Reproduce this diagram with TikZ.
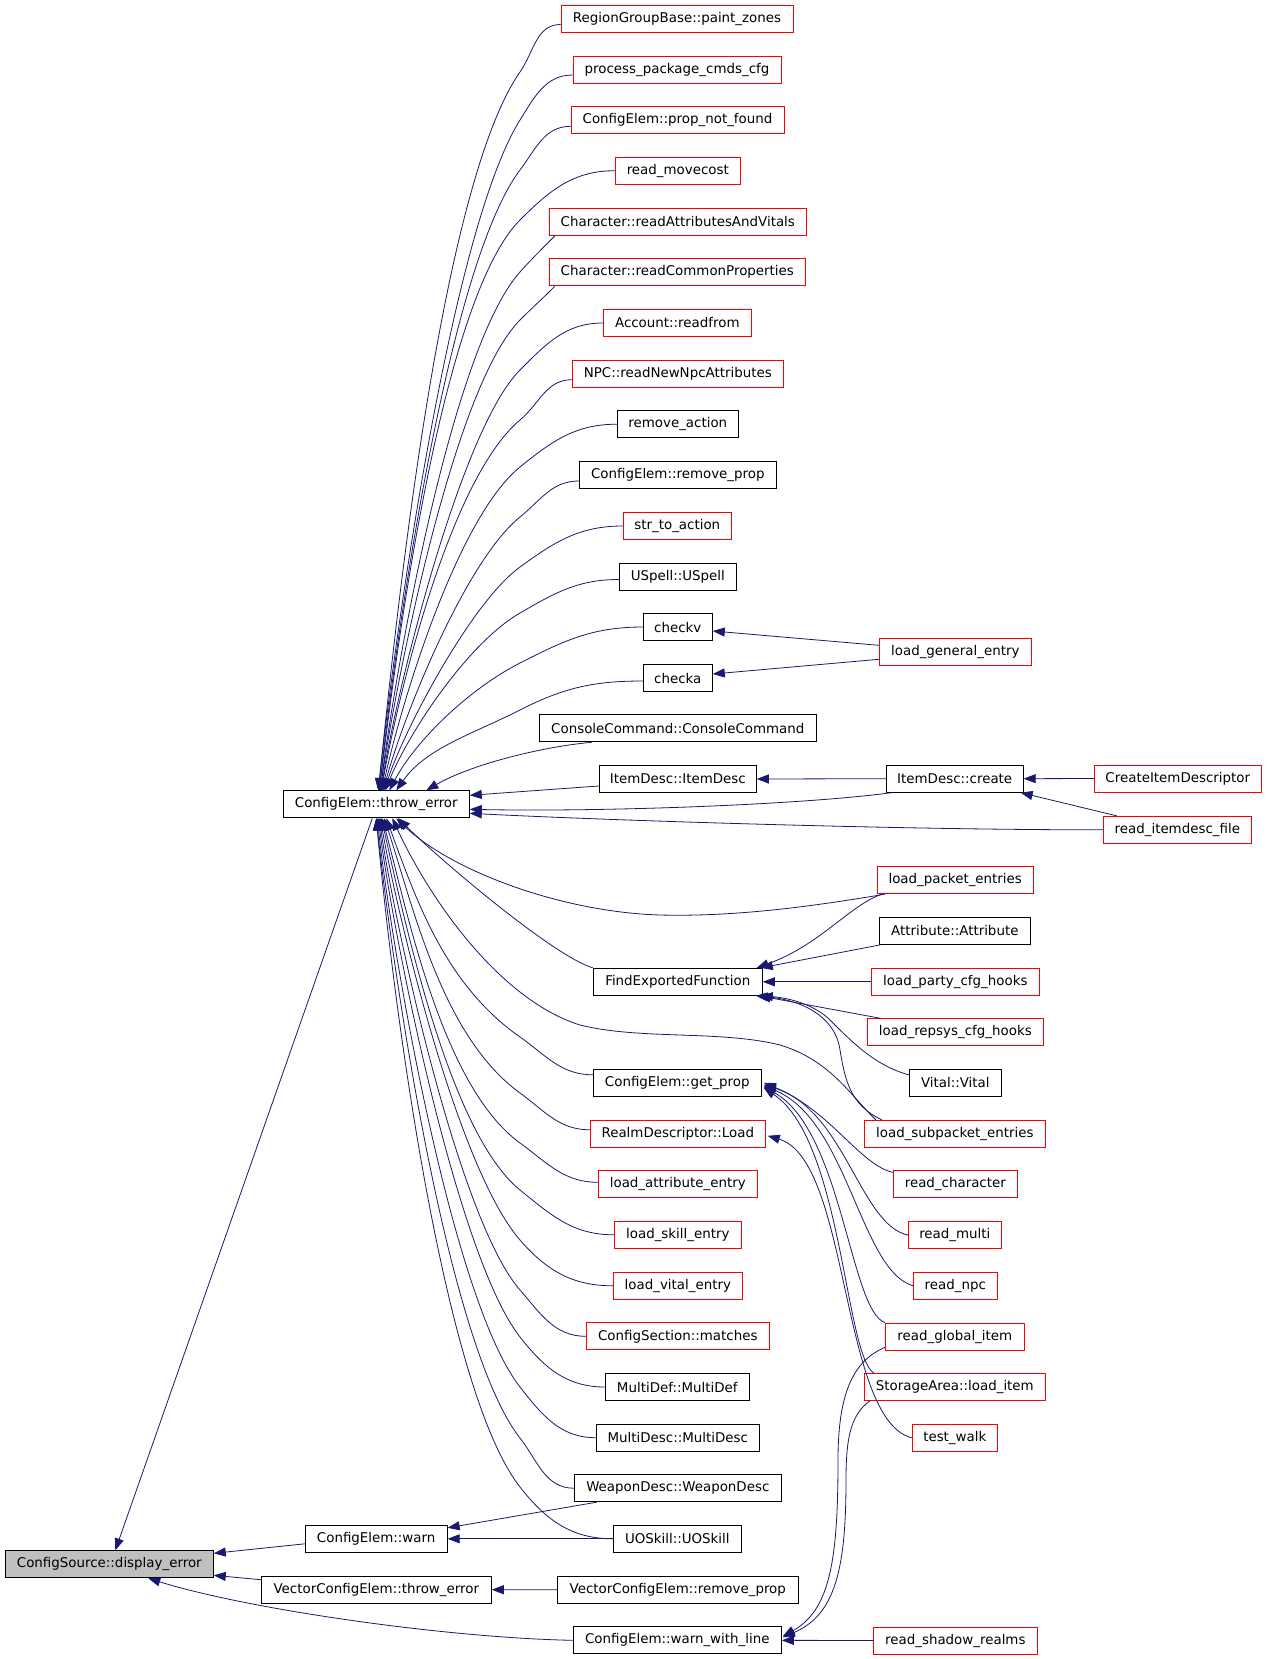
\documentclass[tikz,border=0pt]{standalone}
\usepackage{fontspec}
\setmainfont{DejaVu Sans}
\usetikzlibrary{arrows.meta,calc}
\definecolor{edgec}{HTML}{191970}
\definecolor{redc}{HTML}{FF0000}
\definecolor{grayc}{HTML}{BFBFBF}
\begin{document}
\begin{tikzpicture}[x=1pt,y=-1pt,
  box/.style={draw=black,line width=0.9pt,minimum height=27pt,inner sep=0pt,font=\fontsize{13.4}{16}\selectfont},
  rbox/.style={box,draw=redc},
  edge/.style={draw=edgec,line width=0.8pt,-{Triangle[length=12pt,width=9pt]}},
]
\useasboundingbox (0,0) rectangle (1267,1659);
\fill[white] (0,0) rectangle (1267,1659);

% column 0 / 1
\node[box,fill=grayc,minimum width=208pt] (de) at (109.3,1564.3) {ConfigSource::display\_error};
\node[box,minimum width=186pt] (te) at (376.3,804.3) {ConfigElem::throw\_error};
\node[box,minimum width=142pt] (warn) at (376.2,1538.8) {ConfigElem::warn};
\node[box,minimum width=230pt] (vte) at (376.3,1589.7) {VectorConfigElem::throw\_error};

% column 2
\node[rbox,minimum width=232pt] (pz) at (677,18.5) {RegionGroupBase::paint\_zones};
\node[rbox,minimum width=208pt] (ppc) at (677,70) {process\_package\_cmds\_cfg};
\node[rbox,minimum width=213pt] (pnf) at (677.5,120.3) {ConfigElem::prop\_not\_found};
\node[rbox,minimum width=125pt] (rmc) at (677.8,170.7) {read\_movecost};
\node[rbox,minimum width=257pt] (rav) at (677.8,222) {Character::readAttributesAndVitals};
\node[rbox,minimum width=256pt] (rcp) at (677.3,272.3) {Character::readCommonProperties};
\node[rbox,minimum width=148pt] (acc) at (677.3,323) {Account::readfrom};
\node[rbox,minimum width=211pt] (npc) at (677.8,373.7) {NPC::readNewNpcAttributes};
\node[box,minimum width=121pt] (ra) at (677.8,424.2) {remove\_action};
\node[box,minimum width=197pt] (rp) at (677.8,475) {ConfigElem::remove\_prop};
\node[rbox,minimum width=108pt] (sta) at (677.3,526) {str\_to\_action};
\node[box,minimum width=117pt] (us) at (677.8,576.5) {USpell::USpell};
\node[box,minimum width=69pt] (cv) at (677.8,627) {checkv};
\node[box,minimum width=69pt] (ca) at (677.8,678) {checka};
\node[box,minimum width=277pt] (cc) at (677.8,728.3) {ConsoleCommand::ConsoleCommand};
\node[box,minimum width=157pt] (idd) at (677.8,779) {ItemDesc::ItemDesc};
\node[box,minimum width=169pt] (fef) at (677.8,981.8) {FindExportedFunction};
\node[box,minimum width=168pt] (gp) at (677.3,1082.8) {ConfigElem::get\_prop};
\node[rbox,minimum width=175pt] (rdl) at (677.8,1133.8) {RealmDescriptor::Load};
\node[rbox,minimum width=159pt] (lae) at (677.8,1184.3) {load\_attribute\_entry};
\node[rbox,minimum width=127pt] (lse) at (677.8,1234.8) {load\_skill\_entry};
\node[rbox,minimum width=129pt] (lve) at (677.8,1285.8) {load\_vital\_entry};
\node[rbox,minimum width=183pt] (csm) at (677.8,1336.3) {ConfigSection::matches};
\node[box,minimum width=144pt] (mdf) at (677.3,1387) {MultiDef::MultiDef};
\node[box,minimum width=163pt] (mds) at (677.8,1437.7) {MultiDesc::MultiDesc};
\node[box,minimum width=207pt] (wd) at (677.8,1488.2) {WeaponDesc::WeaponDesc};
\node[box,minimum width=128pt] (uos) at (677.3,1538.8) {UOSkill::UOSkill};
\node[box,minimum width=241pt] (vrp) at (677.8,1589.8) {VectorConfigElem::remove\_prop};
\node[box,minimum width=208pt] (wwl) at (677.3,1640.3) {ConfigElem::warn\_with\_line};

% column 3
\node[rbox,minimum width=152pt] (lge) at (955.3,652.3) {load\_general\_entry};
\node[box,minimum width=137pt] (idc) at (954.7,778.7) {ItemDesc::create};
\node[rbox,minimum width=156pt] (lpe) at (955.2,880.3) {load\_packet\_entries};
\node[box,minimum width=151pt] (aa) at (954.8,930.8) {Attribute::Attribute};
\node[rbox,minimum width=168pt] (lpc) at (955.3,981.8) {load\_party\_cfg\_hooks};
\node[rbox,minimum width=176pt] (lrc) at (955.3,1032.3) {load\_repsys\_cfg\_hooks};
\node[box,minimum width=92pt] (vv) at (955.3,1082.8) {Vital::Vital};
\node[rbox,minimum width=181pt] (lspe) at (954.8,1133.8) {load\_subpacket\_entries};
\node[rbox,minimum width=124pt] (rc) at (955.3,1184.3) {read\_character};
\node[rbox,minimum width=93pt] (rm) at (954.8,1235) {read\_multi};
\node[rbox,minimum width=84pt] (rn) at (955.3,1285.7) {read\_npc};
\node[rbox,minimum width=139pt] (rgi) at (954.8,1336.5) {read\_global\_item};
\node[rbox,minimum width=181pt] (sal) at (954.8,1387) {StorageArea::load\_item};
\node[rbox,minimum width=85pt] (tw) at (954.8,1437.8) {test\_walk};
\node[rbox,minimum width=164pt] (rsr) at (955.3,1640.5) {read\_shadow\_realms};

% column 4
\node[rbox,minimum width=167pt] (cid) at (1177.8,778.5) {CreateItemDescriptor};
\node[rbox,minimum width=148pt] (rif) at (1177.3,829.8) {read\_itemdesc\_file};

% ---- edges into display_error
\draw[edge] ($(te.south)+(-4,0)$) -- ($(de.north)+(6,0)$);
\draw[edge] ($(warn.west)+(0,5)$) -- ($(de.east)+(0,-11)$);
\draw[edge] ($(vte.west)+(0,-10)$) -- ($(de.east)+(0,11)$);
\draw[edge] (wwl.west) .. controls (450,1638) and (250,1610) .. ($(de.south)+(39,0)$);

% ---- edges into throw_error from above
\draw[edge] ($(pz.west)+(0,6)$) to[out=180,in=55] (520,72) to[out=235,in=84,looseness=0.5] ($(te.north)+(2,0)$);
\draw[edge] ($(ppc.west)+(0,5)$) to[out=180,in=58] (520,120) to[out=238,in=84,looseness=0.5] ($(te.north)+(2,0)$);
\draw[edge] ($(pnf.west)+(0,6)$) to[out=180,in=53] (520,170) to[out=233,in=84,looseness=0.5] ($(te.north)+(3,0)$);
\draw[edge] (rmc.west) to[out=180,in=45] (520,220) to[out=225,in=83,looseness=0.5] ($(te.north)+(3,0)$);
\draw[edge] ($(rav.south west)+(6,0)$) to[out=225,in=48] (520,272) to[out=228,in=83,looseness=0.5] ($(te.north)+(4,0)$);
\draw[edge] ($(rcp.south west)+(6,0)$) to[out=225,in=45] (520,320) to[out=225,in=82,looseness=0.5] ($(te.north)+(4,0)$);
\draw[edge] (acc.west) to[out=180,in=45] (520,370) to[out=225,in=82,looseness=0.5] ($(te.north)+(5,0)$);
\draw[edge] ($(npc.west)+(0,6)$) to[out=180,in=40] (520,420) to[out=220,in=80,looseness=0.6] ($(te.north)+(5,0)$);
\draw[edge] (ra.west) to[out=180,in=39] (520,467) to[out=219,in=78,looseness=0.6] ($(te.north)+(6,0)$);
\draw[edge] ($(rp.west)+(0,6)$) to[out=180,in=39] (520,517) to[out=219,in=75,looseness=0.6] ($(te.north)+(7,0)$);
\draw[edge] (sta.west) to[out=180,in=36] (520,567) to[out=216,in=72,looseness=0.6] ($(te.north)+(8,0)$);
\draw[edge] ($(us.west)+(0,3)$) to[out=180,in=30] (520,613) to[out=210,in=68,looseness=0.7] ($(te.north)+(9,0)$);
\draw[edge] (cv.west) to[out=180,in=27] (520,663) to[out=207,in=62,looseness=0.8] ($(te.north)+(13,0)$);
\draw[edge] ($(ca.west)+(0,3)$) to[out=180,in=27] (520,710) to[out=207,in=55,looseness=0.9] ($(te.north)+(20,0)$);
\draw[edge] ($(cc.south)+(-86,0)$) .. controls (540,747) and (470,765) .. ($(te.north)+(50,0)$);
\draw[edge] ($(idd.west)+(0,7)$) -- ($(te.east)+(0,-9)$);
\draw[edge] ($(idc.south west)+(6,0)$) .. controls (800,805) and (600,812) .. ($(te.east)+(0,5)$);
\draw[edge] (rif.west) .. controls (900,830) and (600,820) .. ($(te.east)+(0,9)$);

% ---- edges into throw_error from below
\draw[edge] (fef.north west) .. controls +(-40,-12) and +(40,40) .. ($(te.south)+(22,0)$);
\draw[edge] ($(gp.west)+(0,-8)$) to[out=180,in=-35] (520,1037) to[out=145,in=-70,looseness=0.9] ($(te.south)+(10,0)$);
\draw[edge] ($(rdl.west)+(0,-4)$) to[out=180,in=-36] (520,1093) to[out=144,in=-72,looseness=0.8] ($(te.south)+(8,0)$);
\draw[edge] ($(lae.west)+(0,-2)$) to[out=180,in=-36] (520,1143) to[out=144,in=-75,looseness=0.7] ($(te.south)+(6,0)$);
\draw[edge] (lse.west) to[out=180,in=-39] (520,1190) to[out=141,in=-77,looseness=0.6] ($(te.south)+(5,0)$);
\draw[edge] (lve.west) to[out=180,in=-49] (520,1240) to[out=131,in=-80,looseness=0.55] ($(te.south)+(4,0)$);
\draw[edge] (csm.west) to[out=180,in=-49] (520,1290) to[out=131,in=-82,looseness=0.5] ($(te.south)+(3,0)$);
\draw[edge] (mdf.west) to[out=180,in=-52] (520,1337) to[out=128,in=-83,looseness=0.5] ($(te.south)+(2,0)$);
\draw[edge] (mds.west) to[out=180,in=-52] (520,1387) to[out=128,in=-84,looseness=0.5] ($(te.south)+(1,0)$);
\draw[edge] (wd.west) to[out=180,in=-52] (520,1438) to[out=128,in=-84,looseness=0.5] ($(te.south)+(0,0)$);
\draw[edge] (uos.west) to[out=180,in=-52] (520,1487) to[out=128,in=-85,looseness=0.5] ($(te.south)+(0,0)$);
\draw[edge] ($(lpe.south west)+(8,0)$) .. controls (820,905) and (740,917) .. (660,915)
   .. controls (560,912) and (450,870) .. ($(te.south)+(20,0)$);
\draw[edge] ($(lspe.north west)+(12,0)$) .. controls (850,1095) and (830,1060) .. (780,1045)
   .. controls (720,1030) and (640,1040) .. (580,1025)
   .. controls (500,1000) and (430,900) .. ($(te.south)+(16,0)$);

% ---- warn, vector throw_error, warn_with_line
\draw[edge] ($(wd.south west)+(23,0)$) -- ($(warn.east)+(0,-11)$);
\draw[edge] (uos.west) -- (warn.east);
\draw[edge] (vrp.west) -- (vte.east);
\draw[edge] (rsr.west) -- (wwl.east);
\draw[edge] ($(rgi.south west)+(0,-3)$) .. controls (855,1360) and (838,1390) .. (838,1460)
   .. controls (838,1560) and (830,1610) .. ($(wwl.east)+(1,-4)$);
\draw[edge] ($(sal.south west)+(6,0)$) .. controls (850,1415) and (846,1440) .. (846,1480)
   .. controls (846,1570) and (835,1615) .. ($(wwl.east)+(1,-3)$);

% ---- checkv / checka
\draw[edge] ($(lge.west)+(0,-7)$) -- ($(cv.east)+(0,4)$);
\draw[edge] ($(lge.west)+(0,7)$) -- ($(ca.east)+(0,-4)$);

% ---- ItemDesc
\draw[edge] (idc.west) -- (idd.east);
\draw[edge] (cid.west) -- (idc.east);
\draw[edge] ($(rif.north west)+(14,0)$) -- ($(idc.south east)+(-3,0)$);

% ---- FindExportedFunction
\draw[edge] ($(lpe.south west)+(5,0)$) .. controls (850,905) and (820,945) .. ($(fef.north east)+(-6,0)$);
\draw[edge] ($(aa.south west)+(2,0)$) -- ($(fef.north east)+(-2,0)$);
\draw[edge] (lpc.west) -- (fef.east);
\draw[edge] ($(lrc.north west)+(14,0)$) -- ($(fef.south east)+(-4,0)$);
\draw[edge] ($(vv.west)+(0,-8)$) .. controls (875,1066) and (850,1040) .. (830,1020)
   .. controls (815,1005) and (790,998) .. ($(fef.south east)+(-2,0)$);
\draw[edge] ($(lspe.north west)+(18,0)$) .. controls (850,1105) and (845,1080) .. (840,1050)
   .. controls (835,1015) and (800,1000) .. ($(fef.south east)+(-7,0)$);

% ---- get_prop / RealmDescriptor::Load
\draw[edge] ($(rc.north west)+(0,2)$) .. controls (860,1165) and (830,1110) .. ($(gp.east)+(2,0)$);
\draw[edge] (rm.west) .. controls (860,1225) and (845,1110) .. ($(gp.east)+(2,2)$);
\draw[edge] (rn.west) .. controls (860,1270) and (848,1120) .. ($(gp.east)+(2,3)$);
\draw[edge] (rgi.north west) .. controls (850,1310) and (842,1130) .. ($(gp.east)+(2,4)$);
\draw[edge] ($(sal.north west)+(10,0)$) .. controls (845,1355) and (842,1140) .. ($(gp.east)+(2,5)$);
\draw[edge] (tw.west) .. controls (840,1420) and (850,1160) .. ($(rdl.east)+(2,2)$);
\end{tikzpicture}
\end{document}
